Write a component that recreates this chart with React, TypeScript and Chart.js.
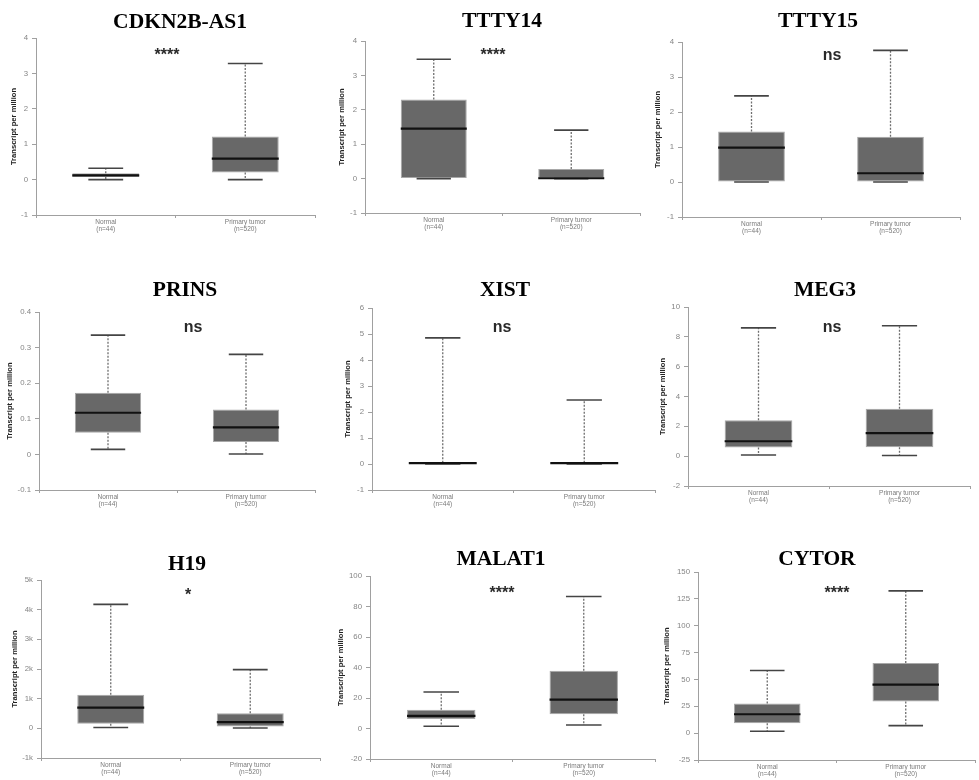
import React, { useEffect, useRef } from 'react';
import { Chart, registerables } from 'chart.js';

Chart.register(...registerables);

// ---------------- data ----------------
const genes = ['CDKN2B-AS1', 'TTTY14', 'TTTY15', 'PRINS', 'XIST', 'MEG3', 'H19', 'MALAT1', 'CYTOR'];
const significance = ['****', '****', 'ns', 'ns', 'ns', 'ns', '*', '****', '****'];
const groups = ['Normal', 'Primary tumor'];
const groupCounts = ['(n=44)', '(n=520)'];

// [min, q1, median, q3, max] (transcripts per million)
const normalStats = [
  [0.0, 0.07, 0.12, 0.18, 0.32],
  [0.0, 0.0, 1.45, 2.3, 3.47],
  [0.0, 0.0, 0.98, 1.44, 2.46],
  [0.014, 0.061, 0.117, 0.173, 0.335],
  [0.0, 0.0, 0.03, 0.05, 4.85],
  [0.08, 0.58, 1.0, 2.4, 8.6],
  [30, 155, 700, 1130, 4180],
  [1.5, 6.3, 8.3, 12.3, 23.9],
  [1.8, 9.2, 17.6, 27.6, 58.3],
];
const tumorStats = [
  [0.0, 0.2, 0.59, 1.22, 3.28],
  [0.0, 0.0, 0.01, 0.28, 1.41],
  [0.0, 0.0, 0.25, 1.29, 3.76],
  [0.001, 0.035, 0.076, 0.126, 0.281],
  [0.0, 0.0, 0.03, 0.05, 2.46],
  [0.04, 0.6, 1.55, 3.18, 8.74],
  [10, 65, 210, 510, 1980],
  [2.3, 9.4, 18.9, 37.8, 86.6],
  [7.0, 29.4, 45.2, 65.2, 132.4],
];

const yMins = [-1, -1, -1, -0.1, -1, -2, -1000, -20, -25];
const yMaxs = [4, 4, 4, 0.4, 6, 10, 5000, 100, 150];
const ySteps = [1, 1, 1, 0.1, 1, 2, 1000, 20, 25];
const yTickDivisors = [1, 1, 1, 1, 1, 1, 1000, 1, 1];
const yTickSuffixes = ['', '', '', '', '', '', 'k', '', ''];
const yAxisTitle = 'Transcript per million';

// ---------------- layout (absolute page px) ----------------
type Layout = {
  px: number; py: number; pw: number; ph: number;
  l: number; t: number; r: number; b: number;
  tx: number; ty: number; sx: number; sy: number; yt: number;
};
const layouts: Layout[] = [
  { px: 0, py: 0, pw: 325, ph: 250, l: 36, t: 38, r: 315, b: 215, tx: 180, ty: 28, sx: 167, sy: 60, yt: 14 },
  { px: 325, py: 0, pw: 325, ph: 250, l: 365, t: 41, r: 640, b: 213, tx: 502, ty: 27, sx: 493, sy: 60, yt: 342 },
  { px: 650, py: 0, pw: 329, ph: 250, l: 682, t: 42, r: 960, b: 217, tx: 818, ty: 27, sx: 832, sy: 60, yt: 658 },
  { px: 0, py: 250, pw: 325, ph: 265, l: 39, t: 312, r: 315, b: 490, tx: 185, ty: 296, sx: 193, sy: 332, yt: 10 },
  { px: 325, py: 250, pw: 335, ph: 265, l: 372, t: 308, r: 655, b: 490, tx: 505, ty: 296, sx: 502, sy: 332, yt: 348 },
  { px: 650, py: 250, pw: 329, ph: 265, l: 688, t: 307, r: 970, b: 486, tx: 825, ty: 296, sx: 832, sy: 332, yt: 663 },
  { px: 0, py: 515, pw: 325, ph: 265, l: 41, t: 580, r: 320, b: 758, tx: 187, ty: 570, sx: 188, sy: 600, yt: 15 },
  { px: 325, py: 515, pw: 335, ph: 265, l: 370, t: 576, r: 655, b: 759, tx: 501, ty: 565, sx: 502, sy: 598, yt: 341 },
  { px: 650, py: 515, pw: 329, ph: 265, l: 698, t: 572, r: 975, b: 760, tx: 817, ty: 565, sx: 837, sy: 598, yt: 667 },
];

const SANS = '"Liberation Sans", Arial, Helvetica, sans-serif';
const SERIF = '"Liberation Serif", "Times New Roman", serif';

function BoxPanel({ idx }: { idx: number }) {
  const ref = useRef<HTMLCanvasElement>(null);
  useEffect(() => {
    const L = layouts[idx];
    const stats = [normalStats[idx], tumorStats[idx]];
    const yTitleFont = 7.6;
    const yTitleLH = yTitleFont * 1.2;
    const padLeft = L.yt - L.px - yTitleLH / 2;
    const lRel = L.l - L.px;
    const tRel = L.t - L.py;
    const rRel = L.r - L.px;
    const bRel = L.b - L.py;

    const extras = {
      id: 'boxExtras',
      afterDatasetsDraw(chart: any) {
        const { ctx } = chart;
        const xs = chart.scales.x;
        const ys = chart.scales.y;
        const meta = chart.getDatasetMeta(0);
        const seg = (x1: number, y1: number, x2: number, y2: number) => {
          ctx.beginPath();
          ctx.moveTo(x1, y1);
          ctx.lineTo(x2, y2);
          ctx.stroke();
        };
        stats.forEach((s, i) => {
          const [mn, q1, med, q3, mx] = s;
          const cx = xs.getPixelForValue(i);
          const bw = meta.data[i].width;
          const capW = bw * 0.52;
          ctx.save();
          ctx.strokeStyle = '#6e6e6e';
          ctx.lineWidth = 1.3;
          ctx.setLineDash([2, 1.5]);
          seg(cx, ys.getPixelForValue(q3), cx, ys.getPixelForValue(mx));
          seg(cx, ys.getPixelForValue(q1), cx, ys.getPixelForValue(mn));
          ctx.setLineDash([]);
          ctx.strokeStyle = '#444';
          ctx.lineWidth = 1.6;
          seg(cx - capW / 2, ys.getPixelForValue(mx), cx + capW / 2, ys.getPixelForValue(mx));
          seg(cx - capW / 2, ys.getPixelForValue(mn), cx + capW / 2, ys.getPixelForValue(mn));
          ctx.strokeStyle = '#111';
          ctx.lineWidth = 2.2;
          seg(cx - bw / 2, ys.getPixelForValue(med), cx + bw / 2, ys.getPixelForValue(med));
          ctx.restore();
        });
      },
      afterDraw(chart: any) {
        const { ctx } = chart;
        ctx.save();
        ctx.fillStyle = '#000';
        ctx.textAlign = 'center';
        ctx.textBaseline = 'alphabetic';
        ctx.font = `bold 21.5px ${SERIF}`;
        ctx.fillText(genes[idx], L.tx - L.px, L.ty - L.py);
        ctx.fillStyle = '#2a2a2a';
        ctx.font = `bold 16px ${SANS}`;
        ctx.fillText(significance[idx], L.sx - L.px, L.sy - L.py);
        ctx.restore();
      },
    };

    const chart = new Chart(ref.current as HTMLCanvasElement, {
      type: 'bar',
      data: {
        labels: groups.map((g, i) => [g, groupCounts[i]]),
        datasets: [
          {
            data: stats.map((s) => [s[1], s[3]]),
            backgroundColor: '#686868',
            borderColor: '#a8a8a8',
            borderWidth: 1,
            borderSkipped: false,
            barPercentage: 0.48,
            categoryPercentage: 1.0,
          } as any,
        ],
      },
      options: {
        responsive: false,
        animation: false,
        devicePixelRatio: 1,
        layout: {
          padding: { left: padLeft, top: tRel, right: L.pw - rRel, bottom: 0 },
        },
        plugins: {
          legend: { display: false },
          tooltip: { enabled: false },
          title: { display: false },
        },
        scales: {
          x: {
            type: 'category',
            offset: true,
            grid: {
              offset: true,
              drawOnChartArea: false,
              tickLength: 3,
              color: '#a0a0a0',
            },
            border: { color: '#a0a0a0', width: 1 },
            ticks: {
              color: '#7a7a7a',
              padding: 0,
              maxRotation: 0,
              autoSkip: false,
              font: { family: SANS, size: 6.5, lineHeight: 1.15 },
            },
            afterFit: (axis: any) => {
              axis.height = L.ph - bRel;
            },
          },
          y: {
            min: yMins[idx],
            max: yMaxs[idx],
            grid: {
              drawOnChartArea: false,
              tickLength: 4,
              color: '#a0a0a0',
            },
            border: { color: '#a0a0a0', width: 1 },
            ticks: {
              stepSize: ySteps[idx],
              color: '#858585',
              padding: 4,
              autoSkip: false,
              font: { family: SANS, size: 7.8 },
              callback: (v: any) => {
                const n = Number(v) / yTickDivisors[idx];
                const r = Math.round(n * 1000) / 1000;
                return r === 0 ? '0' : `${r}${yTickSuffixes[idx]}`;
              },
            },
            title: {
              display: true,
              text: yAxisTitle,
              color: '#222',
              padding: { top: 0, bottom: 0 },
              font: { family: SANS, size: yTitleFont, weight: 'bold', lineHeight: 1.2 },
            },
            afterFit: (axis: any) => {
              axis.width = lRel - padLeft;
            },
          },
        },
      } as any,
      plugins: [extras],
    });
    return () => chart.destroy();
  }, [idx]);

  const L = layouts[idx];
  return (
    <canvas
      ref={ref}
      width={L.pw}
      height={L.ph}
      style={{ position: 'absolute', left: L.px, top: L.py, width: L.pw, height: L.ph }}
    />
  );
}

export default function App() {
  return (
    <div style={{ position: 'absolute', left: 0, top: 0, width: 979, height: 780, background: '#fff', overflow: 'hidden' }}>
      {genes.map((g, i) => (
        <BoxPanel key={g} idx={i} />
      ))}
    </div>
  );
}
